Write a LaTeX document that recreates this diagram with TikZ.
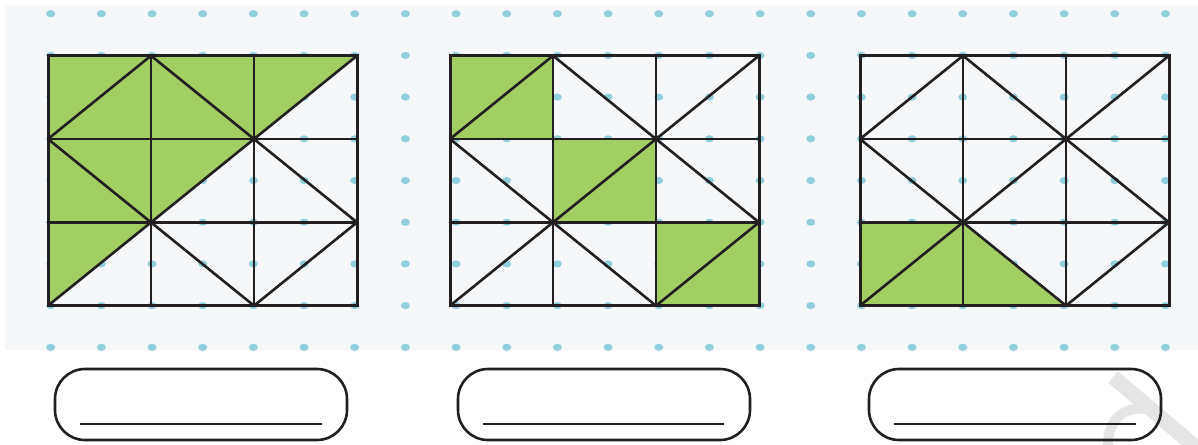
\documentclass[tikz,border=0pt]{standalone}
\definecolor{bgc}{HTML}{F5F7F9}
\definecolor{dotc}{HTML}{92CFDC}
\definecolor{leaf}{HTML}{A3CE64}
\definecolor{ink}{HTML}{231F20}
\definecolor{wmc}{HTML}{E5E5E5}
\tikzset{
  gridline/.style={draw=ink, line width=2.6pt, line cap=round},
  frameline/.style={draw=ink, line width=3pt, line join=miter},
  answerbox/.style={draw=ink, line width=2.6pt, rounded corners=30pt, minimum width=292pt, minimum height=71pt, inner sep=0pt},
  writeline/.style={draw=ink, line width=2.6pt},
  dotmark/.style={fill=dotc},
}
\newcommand{\trigridpic}[2]{%
\begin{scope}[shift={(#1pt,-55.7pt)}, x=103pt, y=-83.33pt]
#2
\foreach \k in {1,2} {\draw[gridline] (\k,0) -- (\k,3); \draw[gridline] (0,\k) -- (3,\k);}
\foreach \a/\b/\c/\d in {0/1/1/0, 1/0/2/1, 2/1/3/0, 0/1/1/2, 1/2/2/1, 2/1/3/2, 0/3/1/2, 1/2/2/3, 2/3/3/2}
  \draw[gridline] (\a,\b) -- (\c,\d);
\draw[frameline] (0,0) rectangle (3,3);
\end{scope}}
\begin{document}
\begin{tikzpicture}[x=1pt, y=-1pt]
\useasboundingbox (0,0) rectangle (1198,444);
\fill[bgc] (5,5) rectangle (1198,350);
\foreach \i in {0,...,22} \foreach \j in {0,...,8}
  \fill[dotmark] (50.7+50.67*\i, 13.7+41.7*\j) ellipse [x radius=4.5pt, y radius=3.6pt];
% grid 1
\trigridpic{48}{\fill[leaf] (0,0) -- (3,0) -- (2,1) -- (1,2) -- (0,3) -- cycle;}
% grid 2
\trigridpic{450}{\fill[leaf] (0,0) rectangle (1,1) (1,1) rectangle (2,2) (2,2) rectangle (3,3);}
% grid 3
\trigridpic{860}{\fill[leaf] (0,2) -- (1,2) -- (2,3) -- (0,3) -- cycle;}
% watermark
\draw[wmc, line width=15pt] (1113,377) -- (1205,455);
\draw[wmc, line width=10pt] (1108,450) .. controls (1106,422) and (1122,406) .. (1146,409);
% answer boxes
\node[answerbox] (box1) at (201,404.5) {};
\node[answerbox] (box2) at (604,404.5) {};
\node[answerbox] (box3) at (1015,404.5) {};
\coordinate (l1a) at (80,424); \coordinate (l1b) at (322,424);
\coordinate (l2a) at (483,424); \coordinate (l2b) at (724,424);
\coordinate (l3a) at (894,424); \coordinate (l3b) at (1136,424);
\draw[writeline] (l1a) -- (l1b);
\draw[writeline] (l2a) -- (l2b);
\draw[writeline] (l3a) -- (l3b);
\end{tikzpicture}
\end{document}
